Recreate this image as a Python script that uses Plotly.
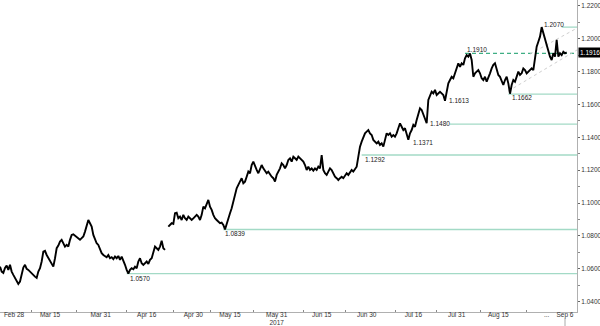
import plotly.graph_objects as go

# ---- EUR/USD hourly-style closes, sampled left to right (Feb 28 .. Sep 6, 2017) ----
feb_mar = [1.0613, 1.0583, 1.0575, 1.0605, 1.0619, 1.0593, 1.0624, 1.0583, 1.0563, 1.0544,
           1.0522, 1.0508, 1.0522, 1.0563, 1.0607, 1.0624, 1.0599, 1.0593, 1.0581, 1.0575,
           1.0563, 1.0552, 1.0544, 1.0583, 1.0603, 1.0644, 1.0704, 1.0709, 1.0684, 1.0664,
           1.0644, 1.0628, 1.0613, 1.0664, 1.0725, 1.0741, 1.0765, 1.0776, 1.0755, 1.0735,
           1.0745, 1.0735, 1.0776, 1.0806, 1.0810, 1.0802, 1.0796, 1.0786, 1.0776, 1.0786,
           1.0796, 1.0826, 1.0867, 1.0897, 1.0877, 1.0856, 1.0806, 1.0776, 1.0755, 1.0745]
apr = [1.0715, 1.0695, 1.0684, 1.0674, 1.0670, 1.0684, 1.0664, 1.0670, 1.0658, 1.0674,
       1.0664, 1.0678, 1.0654, 1.0674, 1.0654, 1.0624, 1.0593, 1.0570, 1.0593, 1.0603,
       1.0597, 1.0613, 1.0603, 1.0644, 1.0664, 1.0634, 1.0624, 1.0634, 1.0644, 1.0630,
       1.0654, 1.0664, 1.0695, 1.0735, 1.0725, 1.0715, 1.0735, 1.0771, 1.0725, 1.0715,
       None, 1.0856, 1.0867, 1.0877, 1.0873, 1.0938, 1.0941, 1.0907, 1.0917, 1.0897,
       1.0928, 1.0907, 1.0897, 1.0917, 1.0907, 1.0897, 1.0907, 1.0917, 1.0928, 1.0917]
may = [1.0897, 1.0928, 1.0978, 1.0968, 1.0999, 1.1019, 1.0978, 1.0958, 1.0928, 1.0907,
       1.0897, 1.0887, 1.0877, 1.0881, 1.0867, 1.0839, 1.0877, 1.0917, 1.0938, 1.0968,
       1.1008, 1.1059, 1.1090, 1.1110, 1.1130, 1.1151, 1.1120, 1.1130, 1.1160, 1.1191,
       1.1181, 1.1231, 1.1252, 1.1221, 1.1201, 1.1181, 1.1201, 1.1231, 1.1211, 1.1191,
       1.1181, 1.1191, 1.1171, 1.1160, 1.1151, 1.1130, 1.1171, 1.1191, 1.1211, 1.1242,
       1.1231, 1.1211, 1.1231, 1.1262, 1.1272, 1.1252, 1.1282, 1.1272, 1.1262, 1.1282]
jun = [1.1272, 1.1262, 1.1252, 1.1231, 1.1201, 1.1221, 1.1201, 1.1211, 1.1197, 1.1211,
       1.1201, 1.1221, 1.1211, 1.1292, 1.1201, 1.1181, 1.1171, 1.1191, 1.1211, 1.1201,
       1.1181, 1.1160, 1.1151, 1.1140, 1.1151, 1.1160, 1.1151, 1.1171, 1.1181, 1.1171,
       1.1191, 1.1201, 1.1191, 1.1211, 1.1221, 1.1282, 1.1343, 1.1373, 1.1394, 1.1424,
       1.1434, 1.1444, 1.1424, 1.1414, 1.1384, 1.1373, 1.1363, 1.1373, 1.1353, 1.1363,
       1.1343, 1.1384, 1.1424, 1.1414, 1.1424, 1.1404, 1.1414, 1.1404, 1.1424, 1.1455]
jul = [1.1485, 1.1464, 1.1444, 1.1455, 1.1424, 1.1385, 1.1424, 1.1444, 1.1475, 1.1464,
       1.1505, 1.1536, 1.1576, 1.1566, 1.1536, 1.1515, 1.1485, 1.1627, 1.1657, 1.1677,
       1.1667, 1.1688, 1.1657, 1.1667, 1.1677, 1.1667, 1.1657, 1.1622, 1.1688, 1.1728,
       1.1748, 1.1768, 1.1759, 1.1789, 1.1829, 1.1850, 1.1829, 1.1850, 1.1840, 1.1880,
       1.1900, 1.1890, 1.1910, 1.1870, 1.1768, 1.1789, 1.1799, 1.1809, 1.1789, 1.1759,
       1.1748, 1.1768, 1.1738, 1.1759]
aug_sep = [1.1789, 1.1819, 1.1840, 1.1850, 1.1819, 1.1779, 1.1768, 1.1738, 1.1718, 1.1748,
           1.1768, 1.1728, 1.1665, 1.1718, 1.1748, 1.1738, 1.1768, 1.1799, 1.1779, 1.1789,
           1.1819, 1.1809, 1.1789, 1.1799, 1.1809, 1.1819, 1.1809, 1.1890, 1.1951, 1.1981,
           1.2012, 1.2070, 1.2032, 1.1992, 1.1951, 1.1911, 1.1890, 1.1870, 1.1911, 1.1890,
           1.1992, 1.1890, 1.1911, 1.1900, 1.1920, 1.1911, 1.1916]

prices = feb_mar + apr + may + jun + jul + aug_sep
idx = list(range(len(prices)))

# ---- x-axis labels (positions in sample index) ----
tick_pos = [8.4, 30, 60.4, 88, 116, 138, 166, 193, 220, 248, 274, 299, 328, 339]
tick_text = ["Feb 28", "Mar 15", "Mar 31", "Apr 16", "Apr 30", "May 15", "May 31<br>2017",
             "Jun 15", "Jun 30", "Jul 16", "Jul 31", "Aug 15", "...", "Sep 6"]
minor_pos = [19, 46, 76, 104, 126, 152, 182, 207, 237, 262, 288, 316]

# ---- marked levels ----
support_levels = [1.0570, 1.0839, 1.1292, 1.1480, 1.1662, 1.2070]
support_from = [76, 134, 217, 270, 305, 337]
resistance_level = 1.1910
resistance_from = 279
label_values = [1.0570, 1.0839, 1.1292, 1.1371, 1.1480, 1.1613, 1.1662, 1.1910, 1.2070]
label_at = [77, 134, 218, 246.5, 257, 268, 306, 279, 325]
last_price = 1.1916

# channel (trend) lines: start/end index and value
chan_lo_x, chan_lo_y = [305, 346.2], [1.1681, 1.1931]
chan_hi_x, chan_hi_y = [318, 346.2], [1.1906, 1.2064]
x_max = 346.2

# ---- styling (kept apart from data) ----
label_shift = {1.0570: -5, 1.0839: -4, 1.1292: -4, 1.1371: 0, 1.1480: 1,
               1.1613: 1.5, 1.1662: -3, 1.1910: 4, 1.2070: 3}
FONT = "Liberation Sans, Arial, sans-serif"
LEVEL_COLOR = "#a3dac6"
DASH_COLOR = "#3fae84"

fig = go.Figure()

for lv, x0 in zip(support_levels, support_from):
    fig.add_trace(go.Scatter(x=[x0, x_max], y=[lv, lv], mode="lines",
                             line=dict(color=LEVEL_COLOR, width=1.3),
                             hoverinfo="skip", showlegend=False))
fig.add_trace(go.Scatter(x=[resistance_from, x_max], y=[resistance_level, resistance_level],
                         mode="lines", line=dict(color=DASH_COLOR, width=1.2, dash="4px,3px"),
                         hoverinfo="skip", showlegend=False))
for cx, cy in ((chan_lo_x, chan_lo_y), (chan_hi_x, chan_hi_y)):
    fig.add_trace(go.Scatter(x=cx, y=cy, mode="lines",
                             line=dict(color="#cfcfcf", width=1, dash="3px,3px"),
                             hoverinfo="skip", showlegend=False))

fig.add_trace(go.Scatter(x=idx, y=prices, mode="lines", connectgaps=False,
                         line=dict(color="black", width=1.9), showlegend=False))

for v, xi in zip(label_values, label_at):
    fig.add_annotation(x=xi, y=v, text=f"{v:.4f}", showarrow=False,
                       xanchor="left", yanchor="middle", yshift=label_shift[v],
                       font=dict(family=FONT, size=6.5, color="#222"))

fig.add_annotation(xref="paper", x=1, y=last_price, text=f"{last_price:.4f}",
                   showarrow=False, xanchor="left", yanchor="middle", xshift=1,
                   bgcolor="black", borderpad=1,
                   font=dict(family=FONT, size=6.5, color="white"))

fig.add_shape(type="line", xref="x", yref="paper", x0=339, x1=339, y0=-0.02, y1=-0.05,
              line=dict(color="#aaaaaa", width=1))

fig.update_layout(
    width=600, height=326, margin=dict(l=0, r=23, t=0, b=14),
    paper_bgcolor="white", plot_bgcolor="white",
    template="none", showlegend=False,
    xaxis=dict(range=[0, x_max], tickmode="array", tickvals=tick_pos, ticktext=tick_text,
               ticks="", showgrid=False, zeroline=False, showline=True,
               linecolor="#b0b0b0", linewidth=1, automargin=False,
               ticklabelstandoff=-4,
               tickfont=dict(family=FONT, size=6.5, color="#333"),
               minor=dict(tickmode="array", tickvals=minor_pos, ticks="inside",
                          ticklen=2, tickcolor="#888", showgrid=False)),
    yaxis=dict(range=[1.0337, 1.2235], side="right", tickmode="linear", tick0=1.04,
               dtick=0.02, tickformat=".4f", ticks="outside", ticklen=2,
               tickcolor="#666", showgrid=False, zeroline=False, showline=True,
               linecolor="#b0b0b0", linewidth=1, automargin=False,
               tickfont=dict(family=FONT, size=6.5, color="#333"),
               minor=dict(dtick=0.01, ticks="outside", ticklen=2, tickcolor="#888",
                          showgrid=False)),
)

fig.write_html("out.html")
